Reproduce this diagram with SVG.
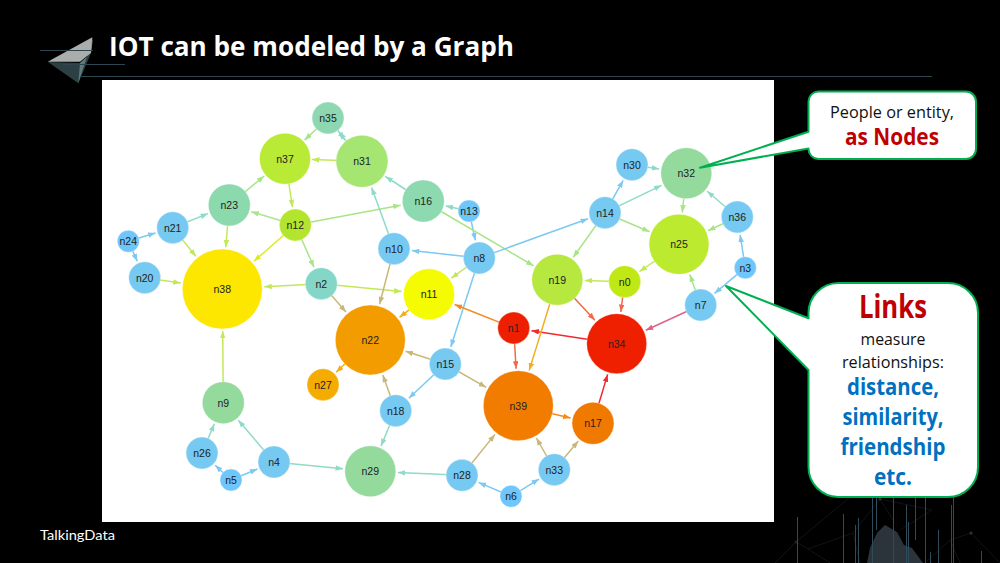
<svg xmlns="http://www.w3.org/2000/svg" width="1000" height="563" viewBox="0 0 1000 563">
<style>
.n text{font:10.5px "Liberation Sans",Arial,sans-serif;fill:#222;text-anchor:middle}
.n circle{stroke:#fff;stroke-opacity:.35;stroke-width:1}
#edges line{stroke-width:1.5;fill:none}
.call{fill:#fff;stroke:#00b050;stroke-width:2;stroke-linejoin:round}
.c{text-anchor:middle;font-family:"Open Sans","Noto Sans",Arial,sans-serif}
.b{font-weight:700}
.red{fill:#c00000}.blue{fill:#0070c0}.blk{fill:#111}
.bl{stroke:#7cc9f2;marker-end:url(#m-bl)}
.mi{stroke:#8fdac8;marker-end:url(#m-mi)}
.lg{stroke:#a8e488;marker-end:url(#m-lg)}
.yg{stroke:#c2e85a;marker-end:url(#m-yg)}
.ye{stroke:#dcec20;marker-end:url(#m-ye)}
.ta{stroke:#c8b878;marker-end:url(#m-ta)}
.or{stroke:#f58a1e;marker-end:url(#m-or)}
.am{stroke:#f0ae20;marker-end:url(#m-am)}
.re{stroke:#f02a30;marker-end:url(#m-re)}
.sa{stroke:#f2694a;marker-end:url(#m-sa)}
.pk{stroke:#dc6488;marker-end:url(#m-pk)}
.deco{stroke:#2f4650;fill:none}
.vert{stroke:#2f4a58;fill:none;stroke-width:1}
.net{stroke:#171d20;fill:none;stroke-width:.7}
</style>
<defs>
<marker id="m-bl" viewBox="0 0 8 6" refX="8" refY="3" markerWidth="7.500" markerHeight="5.600" markerUnits="userSpaceOnUse" orient="auto"><path d="M0 0L8 3L0 6z" fill="#7cc9f2"/></marker>
<marker id="m-mi" viewBox="0 0 8 6" refX="8" refY="3" markerWidth="7.500" markerHeight="5.600" markerUnits="userSpaceOnUse" orient="auto"><path d="M0 0L8 3L0 6z" fill="#8fdac8"/></marker>
<marker id="m-lg" viewBox="0 0 8 6" refX="8" refY="3" markerWidth="7.500" markerHeight="5.600" markerUnits="userSpaceOnUse" orient="auto"><path d="M0 0L8 3L0 6z" fill="#a8e488"/></marker>
<marker id="m-yg" viewBox="0 0 8 6" refX="8" refY="3" markerWidth="7.500" markerHeight="5.600" markerUnits="userSpaceOnUse" orient="auto"><path d="M0 0L8 3L0 6z" fill="#c2e85a"/></marker>
<marker id="m-ye" viewBox="0 0 8 6" refX="8" refY="3" markerWidth="7.500" markerHeight="5.600" markerUnits="userSpaceOnUse" orient="auto"><path d="M0 0L8 3L0 6z" fill="#dcec20"/></marker>
<marker id="m-ta" viewBox="0 0 8 6" refX="8" refY="3" markerWidth="7.500" markerHeight="5.600" markerUnits="userSpaceOnUse" orient="auto"><path d="M0 0L8 3L0 6z" fill="#c8b878"/></marker>
<marker id="m-or" viewBox="0 0 8 6" refX="8" refY="3" markerWidth="7.500" markerHeight="5.600" markerUnits="userSpaceOnUse" orient="auto"><path d="M0 0L8 3L0 6z" fill="#f58a1e"/></marker>
<marker id="m-am" viewBox="0 0 8 6" refX="8" refY="3" markerWidth="7.500" markerHeight="5.600" markerUnits="userSpaceOnUse" orient="auto"><path d="M0 0L8 3L0 6z" fill="#f0ae20"/></marker>
<marker id="m-re" viewBox="0 0 8 6" refX="8" refY="3" markerWidth="7.500" markerHeight="5.600" markerUnits="userSpaceOnUse" orient="auto"><path d="M0 0L8 3L0 6z" fill="#f02a30"/></marker>
<marker id="m-sa" viewBox="0 0 8 6" refX="8" refY="3" markerWidth="7.500" markerHeight="5.600" markerUnits="userSpaceOnUse" orient="auto"><path d="M0 0L8 3L0 6z" fill="#f2694a"/></marker>
<marker id="m-pk" viewBox="0 0 8 6" refX="8" refY="3" markerWidth="7.500" markerHeight="5.600" markerUnits="userSpaceOnUse" orient="auto"><path d="M0 0L8 3L0 6z" fill="#dc6488"/></marker>
</defs>
<rect width="1000" height="563" fill="#000"/>

<g id="decor-bottom">
<path class="net" d="M775 563L796 542L850 497M796 542L808 549L853 533L880 499L893 520M808 549L830 563M880 499L932 510M932 510L900 530M971 533L950 540L925 563M971 533L1000 563M853 533L860 563M950 540L960 563"/>
<path d="M867 563L870 548L877 533L885 525L897 532L904 545L912 548L923 563z" fill="#2a343a"/>
<circle cx="880" cy="499" r="1.500" fill="#333"/><circle cx="796" cy="542" r="1.500" fill="#222"/><circle cx="971" cy="533" r="1.500" fill="#333"/>
<path class="vert" d="M797.500 517V563M843.500 514V563M855.500 525V563M858.500 518V563M872.500 497V563M876.500 497V530M893.500 497V563M906.500 505V563M908.500 522V563M915.500 497V540M925.500 497V563M930.500 552V563M938.500 530V563M951.500 505V563M953.500 497V563M981.500 551V563"/>
</g>

<g id="logo">
<polygon points="48,62 80,63 91,53 78.300,83.300" fill="#2c3f42"/>
<polygon points="80,63 91,53 93,38 78.300,83.300" fill="#5f7a7c"/>
<polygon points="92.300,37.300 47.700,61.700 80,61.700 91,52.700" fill="#a9aeac"/>
<path class="deco" d="M40 50.500H93M63 64.500H125M80 76.500H932"/>
</g>
<text x="109" y="56" font-family="'Open Sans','Noto Sans',Arial,sans-serif" font-weight="700" font-size="26" fill="#fff" textLength="405" lengthAdjust="spacingAndGlyphs">IOT can be modeled by a Graph</text>

<rect id="panel" x="102" y="80" width="672" height="442" fill="#fff"/>

<g id="edges">
<line class="lg" x1="328" y1="118" x2="304.600" y2="140.100"/>
<line class="mi" x1="328" y1="118" x2="344.700" y2="139.300"/>
<line class="mi" x1="362" y1="161.300" x2="339.100" y2="132.200"/>
<line class="yg" x1="362" y1="161.300" x2="312" y2="159.600"/>
<line class="mi" x1="423.300" y1="201" x2="385.500" y2="176.500"/>
<line class="lg" x1="229.300" y1="205" x2="264.200" y2="176"/>
<line class="yg" x1="285" y1="158.700" x2="292.500" y2="207.200"/>
<line class="lg" x1="295.300" y1="225" x2="251.300" y2="211.700"/>
<line class="lg" x1="295.300" y1="225" x2="400.600" y2="205.200"/>
<line class="mi" x1="172.700" y1="227.700" x2="208" y2="213.600"/>
<line class="bl" x1="128.300" y1="241.300" x2="155.500" y2="233"/>
<line class="bl" x1="128.300" y1="241.300" x2="137.300" y2="261.300"/>
<line class="yg" x1="172.700" y1="227.700" x2="195.900" y2="256.400"/>
<line class="yg" x1="229.300" y1="205" x2="225.800" y2="247.200"/>
<line class="ye" x1="295.300" y1="225" x2="253.900" y2="261.300"/>
<line class="lg" x1="295.300" y1="225" x2="314" y2="267.300"/>
<line class="yg" x1="144.700" y1="277.700" x2="180.700" y2="283"/>
<line class="yg" x1="321.300" y1="283.700" x2="264.300" y2="286.800"/>
<line class="yg" x1="321.300" y1="283.700" x2="401.600" y2="291.600"/>
<line class="ta" x1="321.300" y1="283.700" x2="346" y2="312"/>
<line class="mi" x1="394" y1="248.700" x2="371.600" y2="187.600"/>
<line class="ta" x1="394" y1="248.700" x2="379.600" y2="304.200"/>
<line class="bl" x1="479.300" y1="258" x2="411.900" y2="250.600"/>
<line class="mi" x1="469" y1="211" x2="445.700" y2="205.900"/>
<line class="bl" x1="469" y1="211" x2="475.400" y2="240.400"/>
<line class="lg" x1="423.300" y1="201" x2="533.600" y2="265.800"/>
<line class="bl" x1="479.300" y1="258" x2="588" y2="218.800"/>
<line class="yg" x1="479.300" y1="258" x2="451.300" y2="278.200"/>
<line class="bl" x1="479.300" y1="258" x2="450.800" y2="346.900"/>
<line class="bl" x1="605" y1="212.700" x2="623.200" y2="180.400"/>
<line class="mi" x1="605" y1="212.700" x2="661.500" y2="185.300"/>
<line class="lg" x1="605" y1="212.700" x2="649.600" y2="231.700"/>
<line class="lg" x1="605" y1="212.700" x2="573.300" y2="257.300"/>
<line class="mi" x1="632" y1="164.700" x2="659.200" y2="169"/>
<line class="lg" x1="686.300" y1="173.300" x2="682.300" y2="212.500"/>
<line class="mi" x1="737.300" y1="217" x2="707.200" y2="191.200"/>
<line class="lg" x1="737.300" y1="217" x2="708" y2="230.700"/>
<line class="bl" x1="745.300" y1="267.700" x2="740.100" y2="234.800"/>
<line class="bl" x1="745.300" y1="267.700" x2="714.500" y2="293.400"/>
<line class="lg" x1="700.700" y1="305" x2="689.800" y2="274.400"/>
<line class="yg" x1="679" y1="244.300" x2="639.500" y2="271.500"/>
<line class="yg" x1="624.700" y1="281.700" x2="584.800" y2="280.500"/>
<line class="sa" x1="624.700" y1="281.700" x2="620.800" y2="312"/>
<line class="sa" x1="557.300" y1="279.700" x2="594.900" y2="320.200"/>
<line class="pk" x1="700.700" y1="305" x2="645.800" y2="330.300"/>
<line class="re" x1="616.700" y1="343.700" x2="531.500" y2="330.700"/>
<line class="or" x1="513.700" y1="328" x2="454.600" y2="304.500"/>
<line class="sa" x1="513.700" y1="328" x2="516.100" y2="368.700"/>
<line class="am" x1="557.300" y1="279.700" x2="529.200" y2="370.400"/>
<line class="re" x1="593" y1="423.300" x2="607.600" y2="374.400"/>
<line class="or" x1="518.300" y1="405.700" x2="570.600" y2="418"/>
<line class="ta" x1="554.300" y1="469.700" x2="536.400" y2="438"/>
<line class="ta" x1="554.300" y1="469.700" x2="578.300" y2="441"/>
<line class="ta" x1="462" y1="475.300" x2="495" y2="434.400"/>
<line class="bl" x1="511" y1="496.300" x2="478.600" y2="482.400"/>
<line class="bl" x1="511" y1="496.300" x2="539" y2="479.100"/>
<line class="mi" x1="462" y1="475.300" x2="397.800" y2="472.500"/>
<line class="mi" x1="274" y1="462" x2="343" y2="468.700"/>
<line class="bl" x1="231" y1="480" x2="257.400" y2="469"/>
<line class="bl" x1="231" y1="480" x2="215.200" y2="465.300"/>
<line class="mi" x1="202" y1="453" x2="214.300" y2="423.900"/>
<line class="mi" x1="274" y1="462" x2="238.300" y2="420.200"/>
<line class="yg" x1="223.300" y1="402.700" x2="222.700" y2="331"/>
<line class="ta" x1="445.300" y1="364" x2="405.600" y2="351.300"/>
<line class="ta" x1="445.300" y1="364" x2="486.200" y2="387.300"/>
<line class="bl" x1="445.300" y1="364" x2="408.800" y2="398.300"/>
<line class="ta" x1="395.700" y1="410.700" x2="382.800" y2="374.900"/>
<line class="mi" x1="395.700" y1="410.700" x2="381" y2="446"/>
<line class="am" x1="370.300" y1="340" x2="336.100" y2="372.300"/>
<line class="am" x1="429" y1="294.300" x2="399.500" y2="317.300"/>
</g>

<g id="n0" class="n"><circle cx="624.700" cy="281.700" r="16" fill="#c0e815"/><text x="624.700" y="285.500">n0</text></g>
<g id="n1" class="n"><circle cx="513.700" cy="328" r="16" fill="#ee1f00"/><text x="513.700" y="331.800">n1</text></g>
<g id="n2" class="n"><circle cx="321.300" cy="283.700" r="16" fill="#84d6c6"/><text x="321.300" y="287.500">n2</text></g>
<g id="n3" class="n"><circle cx="745.300" cy="267.700" r="11" fill="#6ec6fb"/><text x="745.300" y="271.500">n3</text></g>
<g id="n4" class="n"><circle cx="274" cy="462" r="16" fill="#76c9f0"/><text x="274" y="465.800">n4</text></g>
<g id="n5" class="n"><circle cx="231" cy="480" r="11" fill="#6ec6fb"/><text x="231" y="483.800">n5</text></g>
<g id="n6" class="n"><circle cx="511" cy="496.300" r="11" fill="#6ec6fb"/><text x="511" y="500.100">n6</text></g>
<g id="n7" class="n"><circle cx="700.700" cy="305" r="16" fill="#76c9f0"/><text x="700.700" y="308.800">n7</text></g>
<g id="n8" class="n"><circle cx="479.300" cy="258" r="16" fill="#76c9f0"/><text x="479.300" y="261.800">n8</text></g>
<g id="n9" class="n"><circle cx="223.300" cy="402.700" r="21" fill="#95da9d"/><text x="223.300" y="406.500">n9</text></g>
<g id="n10" class="n"><circle cx="394" cy="248.700" r="16" fill="#76c9f0"/><text x="394" y="252.500">n10</text></g>
<g id="n11" class="n"><circle cx="429" cy="294.300" r="25.500" fill="#f5fb00"/><text x="429" y="298.100">n11</text></g>
<g id="n12" class="n"><circle cx="295.300" cy="225" r="16" fill="#b4e52e"/><text x="295.300" y="228.800">n12</text></g>
<g id="n13" class="n"><circle cx="469" cy="211" r="11" fill="#6ec6fb"/><text x="469" y="214.800">n13</text></g>
<g id="n14" class="n"><circle cx="605" cy="212.700" r="16" fill="#76c9f0"/><text x="605" y="216.500">n14</text></g>
<g id="n15" class="n"><circle cx="445.300" cy="364" r="16" fill="#76c9f0"/><text x="445.300" y="367.800">n15</text></g>
<g id="n16" class="n"><circle cx="423.300" cy="201" r="21" fill="#8dd9b0"/><text x="423.300" y="204.800">n16</text></g>
<g id="n17" class="n"><circle cx="593" cy="423.300" r="21" fill="#f07a00"/><text x="593" y="427.100">n17</text></g>
<g id="n18" class="n"><circle cx="395.700" cy="410.700" r="16" fill="#76c9f0"/><text x="395.700" y="414.500">n18</text></g>
<g id="n19" class="n"><circle cx="557.300" cy="279.700" r="25.500" fill="#b6e840"/><text x="557.300" y="283.500">n19</text></g>
<g id="n20" class="n"><circle cx="144.700" cy="277.700" r="16" fill="#76c9f0"/><text x="144.700" y="281.500">n20</text></g>
<g id="n21" class="n"><circle cx="172.700" cy="227.700" r="16" fill="#76c9f0"/><text x="172.700" y="231.500">n21</text></g>
<g id="n22" class="n"><circle cx="370.300" cy="340" r="35" fill="#f39c00"/><text x="370.300" y="343.800">n22</text></g>
<g id="n23" class="n"><circle cx="229.300" cy="205" r="21" fill="#8dd9ae"/><text x="229.300" y="208.800">n23</text></g>
<g id="n24" class="n"><circle cx="128.300" cy="241.300" r="11" fill="#6ec6fb"/><text x="128.300" y="245.100">n24</text></g>
<g id="n25" class="n"><circle cx="679" cy="244.300" r="30" fill="#bbea2e"/><text x="679" y="248.100">n25</text></g>
<g id="n26" class="n"><circle cx="202" cy="453" r="16" fill="#76c9f0"/><text x="202" y="456.800">n26</text></g>
<g id="n27" class="n"><circle cx="323" cy="384.700" r="16" fill="#f4ac00"/><text x="323" y="388.500">n27</text></g>
<g id="n28" class="n"><circle cx="462" cy="475.300" r="16" fill="#76c9f0"/><text x="462" y="479.100">n28</text></g>
<g id="n29" class="n"><circle cx="370.300" cy="471.300" r="25.500" fill="#95da9d"/><text x="370.300" y="475.100">n29</text></g>
<g id="n30" class="n"><circle cx="632" cy="164.700" r="16" fill="#76c9f0"/><text x="632" y="168.500">n30</text></g>
<g id="n31" class="n"><circle cx="362" cy="161.300" r="26" fill="#a5e572"/><text x="362" y="165.100">n31</text></g>
<g id="n32" class="n"><circle cx="686.300" cy="173.300" r="25.500" fill="#95da9d"/><text x="686.300" y="177.100">n32</text></g>
<g id="n33" class="n"><circle cx="554.300" cy="469.700" r="16" fill="#76c9f0"/><text x="554.300" y="473.500">n33</text></g>
<g id="n34" class="n"><circle cx="616.700" cy="343.700" r="30" fill="#ef2000"/><text x="616.700" y="347.500">n34</text></g>
<g id="n35" class="n"><circle cx="328" cy="118" r="16" fill="#8dd8b0"/><text x="328" y="121.800">n35</text></g>
<g id="n36" class="n"><circle cx="737.300" cy="217" r="16" fill="#76c9f0"/><text x="737.300" y="220.800">n36</text></g>
<g id="n37" class="n"><circle cx="285" cy="158.700" r="25.500" fill="#b9ea35"/><text x="285" y="162.500">n37</text></g>
<g id="n38" class="n"><circle cx="222.300" cy="289" r="40" fill="#fde600"/><text x="222.300" y="292.800">n38</text></g>
<g id="n39" class="n"><circle cx="518.300" cy="405.700" r="35" fill="#f27c00"/><text x="518.300" y="409.500">n39</text></g>

<g id="callout-nodes">
<path class="call" d="M818 91.500H966A10 10 0 0 1 976 101.500V149A10 10 0 0 1 966 159H818A10 10 0 0 1 808.500 149V148.500L700 167.700L808.500 131.700V101.500A10 10 0 0 1 818 91.500z"/>
<text class="c blk" x="892" y="117.500" font-size="17" textLength="124" lengthAdjust="spacingAndGlyphs">People or entity,</text>
<text class="c b red" x="892" y="145" font-size="23" textLength="94" lengthAdjust="spacingAndGlyphs">as Nodes</text>
</g>
<g id="callout-links">
<path class="call" d="M838 283H948A30 30 0 0 1 978 313V467A30 30 0 0 1 948 497H838A30 30 0 0 1 808.500 467V370L726 286L808.500 318.300V313A30 30 0 0 1 838 283z"/>
<text class="c b red" x="893" y="318" font-size="33" textLength="68" lengthAdjust="spacingAndGlyphs">Links</text>
<text class="c blk" x="893" y="345" font-size="17" textLength="65" lengthAdjust="spacingAndGlyphs">measure</text>
<text class="c blk" x="893" y="367.500" font-size="17" textLength="102" lengthAdjust="spacingAndGlyphs">relationships:</text>
<text class="c b blue" x="893" y="395" font-size="23" textLength="92" lengthAdjust="spacingAndGlyphs">distance,</text>
<text class="c b blue" x="893" y="425" font-size="23" textLength="101" lengthAdjust="spacingAndGlyphs">similarity,</text>
<text class="c b blue" x="893" y="455" font-size="23" textLength="105" lengthAdjust="spacingAndGlyphs">friendship</text>
<text class="c b blue" x="893" y="485" font-size="23" textLength="38" lengthAdjust="spacingAndGlyphs">etc.</text>
</g>
<text id="brand" x="40" y="540" font-family="Lato,'Open Sans',Arial,sans-serif" font-weight="400" font-size="13" fill="#fff" textLength="75" lengthAdjust="spacingAndGlyphs">TalkingData</text>
</svg>
